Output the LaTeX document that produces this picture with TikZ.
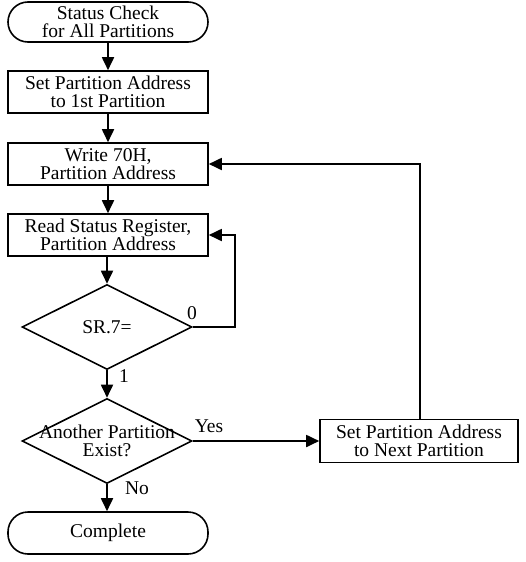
\documentclass[tikz,border=0pt]{standalone}
\usepackage{fontspec}
\setmainfont{Liberation Serif}
\usetikzlibrary{shapes.geometric,arrows.meta}
\begin{document}
\begin{tikzpicture}[x=1pt,y=-1pt,
  every node/.style={font=\fontsize{19.5}{18.5}\selectfont, align=center, inner sep=0pt},
  term/.style={draw, line width=1.6pt, rounded corners=20pt, minimum width=200pt, minimum height=40pt},
  proc/.style={draw, line width=1.6pt, minimum width=200pt, minimum height=42pt},
  dec/.style={draw, line width=1.6pt, diamond, minimum width=170pt, minimum height=85pt},
  conn/.style={line width=1.8pt, -{Triangle[length=13pt,width=12pt]}},
  lbl/.style={font=\fontsize{19.5}{18.5}\selectfont}]
\useasboundingbox (0,0) rectangle (525,562);
\node[term] (start) at (108,22) {Status Check\\for All Partitions};
\node[proc] (setp) at (108,92) {Set Partition Address\\to 1st Partition};
\node[proc] (wr) at (108,164) {Write 70H,\\Partition Address};
\node[proc] (rd) at (108,235) {Read Status Register,\\Partition Address};
\node[dec] (sr) at (107,327) {};
\node at (sr) {SR.7=};
\node[dec] (ap) at (107,441) {};
\node at (ap) {Another Partition\\Exist?};
\node[proc, minimum width=198pt, minimum height=43pt] (nx) at (419,441) {Set Partition Address\\to Next Partition};
\node[term, minimum height=42pt] (done) at (108,533) {Complete};
\coordinate (c0) at (235,327);
\coordinate (c1) at (420,164);
\draw[conn] (start) -- (setp);
\draw[conn] (setp) -- (wr);
\draw[conn] (wr) -- (rd);
\draw[conn] (rd.south -| sr.north) -- (sr.north);
\draw[conn] (sr.east) -- (c0) |- (rd.east);
\draw[conn] (sr.south) -- (ap.north);
\draw[conn] (ap.east) -- (nx.west);
\draw[conn] (nx.north -| c1) -- (c1) -- (wr.east);
\draw[conn] (ap.south) -- (done.north -| ap.south);
\node[lbl] (l0) at (192,313) {0};
\node[lbl] (l1) at (124,376) {1};
\node[lbl] (ly) at (209,426) {Yes};
\node[lbl] (ln) at (137,488) {No};
\end{tikzpicture}
\end{document}
